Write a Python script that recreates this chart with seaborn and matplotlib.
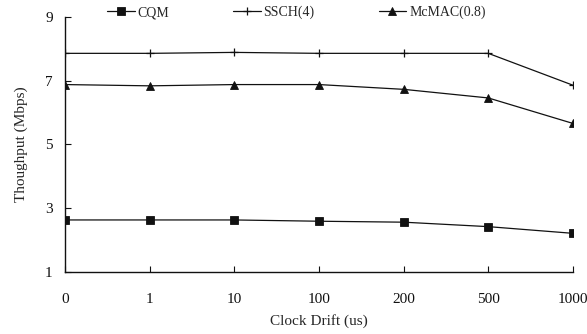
import matplotlib
matplotlib.use("Agg")
import matplotlib.pyplot as plt
import seaborn as sns
import pandas as pd

drift = ["0", "1", "10", "100", "200", "500", "1000"]
cqm = [2.63, 2.63, 2.63, 2.59, 2.56, 2.42, 2.21]
ssch = [7.86, 7.86, 7.89, 7.86, 7.86, 7.86, 6.86]
mcmac = [6.88, 6.84, 6.88, 6.88, 6.73, 6.46, 5.66]
series_names = ["CQM", "SSCH(4)", "McMAC(0.8)"]
series_markers = ["s", "+", "^"]

sns.set_theme(style="ticks")
plt.rcParams["font.family"] = ["Liberation Serif", "DejaVu Serif"]

fig = plt.figure(figsize=(5.87, 3.34), dpi=100)
ax = fig.add_axes([0.111, 0.186, 0.865, 0.763])

for name, vals, mk in zip(series_names, [cqm, ssch, mcmac], series_markers):
    df = pd.DataFrame({"pos": list(range(len(drift))), "value": vals})
    sns.lineplot(data=df, x="pos", y="value", marker=mk, color="#111111",
                 linewidth=0.9, markersize=5.2 if mk != "+" else 6,
                 markeredgewidth=0.6 if mk != "+" else 0.9,
                 markeredgecolor="#111111", label=name, ax=ax)

ax.set_xlim(0, 6)
ax.set_ylim(1, 9)
ax.set_yticks([1, 3, 5, 7, 9])
ax.set_xticks(range(len(drift)))
ax.set_xticklabels(drift)
ax.tick_params(axis="x", direction="in", length=4, width=0.8, labelsize=11, pad=15, colors="#111111")
ax.tick_params(axis="y", direction="in", length=4, width=0.8, labelsize=11, pad=9, colors="#111111")
for lbl in ax.get_xticklabels():
    lbl.set_clip_on(False)
for s in ["top", "right"]:
    ax.spines[s].set_visible(False)
for s in ["left", "bottom"]:
    ax.spines[s].set_linewidth(1.0)
    ax.spines[s].set_color("#111111")

ax.set_xlabel("Clock Drift (us)", fontsize=11, labelpad=6)
ax.set_ylabel("Thoughput (Mbps)", fontsize=11, labelpad=12)

handles, labels = ax.get_legend_handles_labels()
leg = ax.legend(handles, labels, ncol=3, frameon=False, loc="center",
                bbox_to_anchor=(0.455, 1.018), fontsize=10, handlelength=2.0,
                handletextpad=0.2, columnspacing=4.6)

fig.savefig("out.png", dpi=100)
